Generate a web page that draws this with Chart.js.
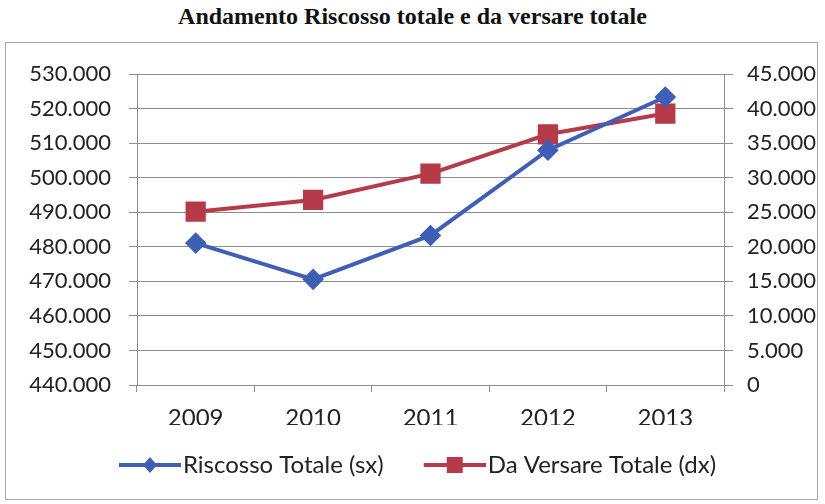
<!DOCTYPE html>
<html>
<head>
<meta charset="utf-8">
<script src="https://cdn.jsdelivr.net/npm/chart.js@4/dist/chart.umd.min.js"></script>
<style>
  body { margin: 0; background: #fff; }
  #title { position: absolute; left: 0; top: 3px; width: 825px; text-align: center;
           font: bold 24px "Liberation Serif", "Times New Roman", serif; color: #111; }
  #box { position: absolute; left: 5px; top: 42px; width: 811px; height: 456px;
         border: 1px solid #a8a8a8; }
</style>
</head>
<body>
<div id="title">Andamento Riscosso totale e da versare totale</div>
<div id="box"><canvas id="chart"></canvas></div>
<script>
// dati
const anni = ['2009', '2010', '2011', '2012', '2013'];
const riscossoTotale = [481100, 470600, 483300, 508000, 523400];
const daVersareTotale = [25100, 26800, 30600, 36300, 39300];
const tickSx = { min: 440000, max: 530000, step: 10000 };
const tickDx = { min: 0, max: 45000, step: 5000 };

const blu = '#3f5fb6';
const rosso = '#b63a47';
const griglia = '#8e8e8e';
const fontY = { family: 'Lato, "Open Sans", sans-serif', size: 22 };
const fontX = { family: 'Lato, "Open Sans", sans-serif', size: 24 };

// separatore migliaia con il punto
function formatta(v) {
  return String(v).replace(/\B(?=(\d{3})+(?!\d))/g, '.');
}

// icona legenda: linea con marcatore (spostata a destra, così si attacca al testo)
function iconaLegenda(colore, forma) {
  const c = document.createElement('canvas');
  c.width = 84; c.height = 18;
  const g = c.getContext('2d');
  g.strokeStyle = colore; g.lineWidth = 4;
  g.beginPath(); g.moveTo(22, 9); g.lineTo(84, 9); g.stroke();
  g.fillStyle = colore;
  g.beginPath();
  if (forma === 'rombo') {
    g.moveTo(53, 1); g.lineTo(60, 9); g.lineTo(53, 17); g.lineTo(46, 9);
  } else {
    g.rect(45, 1, 16, 16);
  }
  g.closePath(); g.fill();
  return c;
}
const icone = [iconaLegenda(blu, 'rombo'), iconaLegenda(rosso, 'quadrato')];

const ctx = document.getElementById('chart').getContext('2d');
const chart = new Chart(ctx, {
  type: 'line',
  data: {
    labels: anni,
    datasets: [{
      label: 'Riscosso Totale (sx)',
      data: riscossoTotale,
      yAxisID: 'y',
      borderColor: blu,
      backgroundColor: blu,
      borderWidth: 4,
      pointStyle: 'rectRot',
      pointRadius: 8,
      pointHoverRadius: 8,
      tension: 0
    }, {
      label: 'Da Versare Totale (dx)',
      data: daVersareTotale,
      yAxisID: 'y1',
      borderColor: rosso,
      backgroundColor: rosso,
      borderWidth: 4,
      pointStyle: 'rect',
      pointRadius: 11.5,
      pointHoverRadius: 11.5,
      tension: 0
    }]
  },
  options: {
    responsive: true,
    maintainAspectRatio: false,
    animation: false,
    layout: { padding: { top: 30, bottom: 12, left: 0, right: 0 } },
    plugins: {
      legend: {
        position: 'bottom',
        labels: {
          usePointStyle: true,
          pointStyleWidth: 64,
          padding: 28,
          color: '#222',
          font: fontX,
          generateLabels: (c) => c.data.datasets.map((ds, i) => ({
            text: ds.label,
            pointStyle: icone[i],
            fillStyle: ds.borderColor,
            strokeStyle: ds.borderColor,
            lineWidth: 0,
            fontColor: '#222',
            datasetIndex: i,
            hidden: false
          }))
        }
      },
      tooltip: { enabled: false }
    },
    scales: {
      x: {
        offset: true,
        grid: { drawOnChartArea: false, offset: true, tickLength: 7, color: griglia },
        border: { color: griglia },
        ticks: { color: '#222', font: fontX, padding: 12 },
        afterFit: (s) => { s.height = 40; }
      },
      y: {
        position: 'left',
        min: tickSx.min,
        max: tickSx.max,
        grid: { color: griglia, tickLength: 8 },
        border: { color: griglia },
        ticks: { stepSize: tickSx.step, color: '#222', font: fontY, padding: 18,
                 callback: (v) => formatta(v) },
        afterFit: (s) => { s.width = 131; }
      },
      y1: {
        position: 'right',
        min: tickDx.min,
        max: tickDx.max,
        grid: { drawOnChartArea: false, color: griglia, tickLength: 9 },
        border: { color: griglia },
        ticks: { stepSize: tickDx.step, color: '#222', font: fontY, padding: 14,
                 callback: (v) => formatta(v) },
        afterFit: (s) => { s.width = 93; }
      }
    }
  }
});
</script>
</body>
</html>
